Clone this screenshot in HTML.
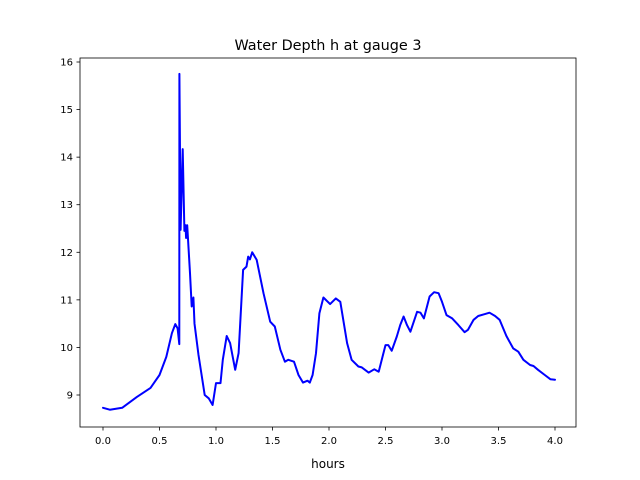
<!DOCTYPE html>
<html><head><meta charset="utf-8"><style>
body{margin:0;background:#fff;}
svg{display:block;font-family:"DejaVu Sans","Liberation Sans",sans-serif;}
</style></head><body>
<svg id="chart" width="640" height="480">
<rect width="640" height="480" fill="#fff"/>
<text x="328" y="50" font-size="14.4" text-anchor="middle">Water Depth h at gauge 3</text>
<g id="plot"></g>
<text x="328" y="468" font-size="12" text-anchor="middle">hours</text>
</svg>
<script>
const hours = [0,0.06,0.17,0.30,0.42,0.50,0.56,0.61,0.64,0.66,0.675,0.676,0.687,0.705,0.72,0.73,0.735,0.745,0.77,0.785,0.80,0.81,0.845,0.875,0.90,0.935,0.97,1.0,1.04,1.06,1.095,1.125,1.17,1.2,1.24,1.27,1.285,1.30,1.32,1.36,1.42,1.48,1.52,1.57,1.61,1.64,1.69,1.73,1.77,1.81,1.83,1.855,1.885,1.915,1.95,2.01,2.06,2.10,2.16,2.20,2.26,2.29,2.35,2.40,2.44,2.50,2.525,2.555,2.60,2.63,2.66,2.69,2.72,2.78,2.81,2.84,2.89,2.93,2.97,3.00,3.04,3.09,3.145,3.20,3.23,3.28,3.32,3.38,3.42,3.47,3.51,3.57,3.63,3.675,3.72,3.78,3.81,3.85,3.91,3.96,4.0];
const depth = [8.73,8.69,8.73,8.96,9.15,9.42,9.80,10.30,10.49,10.4,10.07,15.75,12.47,14.17,12.45,12.57,12.3,12.57,11.56,10.86,11.05,10.5,9.84,9.38,9.0,8.93,8.79,9.25,9.25,9.74,10.24,10.09,9.53,9.88,11.63,11.70,11.91,11.85,12.0,11.84,11.14,10.54,10.44,9.95,9.70,9.74,9.70,9.42,9.26,9.3,9.26,9.42,9.88,10.72,11.05,10.91,11.03,10.96,10.09,9.74,9.60,9.58,9.47,9.54,9.49,10.05,10.05,9.93,10.23,10.47,10.65,10.47,10.33,10.75,10.73,10.61,11.07,11.16,11.14,10.96,10.68,10.61,10.47,10.32,10.37,10.58,10.66,10.70,10.73,10.66,10.58,10.24,9.98,9.91,9.74,9.63,9.61,9.53,9.42,9.33,9.32];
const xTicks = [0,0.5,1,1.5,2,2.5,3,3.5,4];
const xTickLabels = ["0.0","0.5","1.0","1.5","2.0","2.5","3.0","3.5","4.0"];
const yTicks = [9,10,11,12,13,14,15,16];
const yTickLabels = ["9","10","11","12","13","14","15","16"];
const NS="http://www.w3.org/2000/svg";
const L=80,R=576,T=58,B=427;
const xScale=v=>103+v*113;
const yScale=v=>395-(v-9)*47.571;
const g=document.getElementById('plot');
function mk(tag,attrs){const e=document.createElementNS(NS,tag);for(const k in attrs)e.setAttribute(k,attrs[k]);g.appendChild(e);return e;}
const line=mk('polyline',{points:hours.map((h,i)=>xScale(h).toFixed(1)+','+yScale(depth[i]).toFixed(1)).join(' '),fill:'none',stroke:'#0000ff','stroke-width':2,'stroke-linejoin':'round','stroke-linecap':'round'});


const frame=mk('rect',{x:L,y:T,width:R-L,height:B-T,fill:'none',stroke:'#000','stroke-width':0.8});


xTicks.forEach((v,i)=>{
 const x=xScale(v);
 const t=mk('line',{x1:x,x2:x,y1:B,y2:B+3.5,stroke:'#000','stroke-width':0.8});
 
 
 const lb=mk('text',{x:x,y:B+17,'font-size':10,'text-anchor':'middle'});
 lb.textContent=xTickLabels[i];
 
 
});
yTicks.forEach((v,i)=>{
 const y=yScale(v);
 const t=mk('line',{x1:L-3.5,x2:L,y1:y,y2:y,stroke:'#000','stroke-width':0.8});
 
 
 const lb=mk('text',{x:L-7,y:y+3.5,'font-size':10,'text-anchor':'end'});
 lb.textContent=yTickLabels[i];
 
 
});
</script>
</body></html>
